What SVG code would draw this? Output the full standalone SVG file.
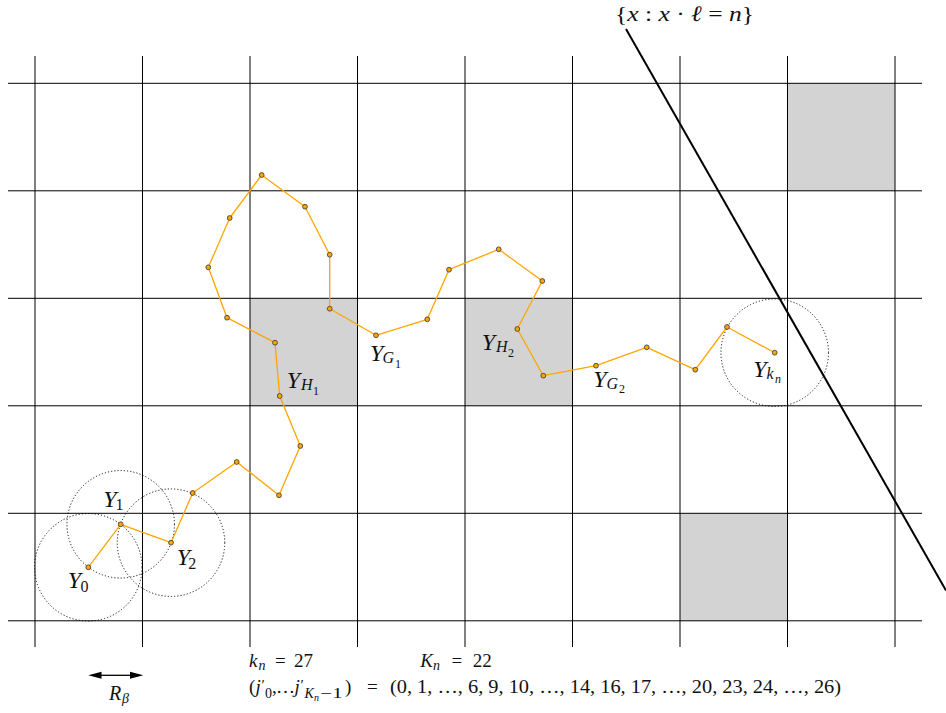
<svg xmlns="http://www.w3.org/2000/svg" width="946" height="713" viewBox="0 0 946 713">
<style>
.g{stroke:#000;stroke-width:1;fill:none}
.cell{fill:#d3d3d3;stroke:none}
.dc{fill:none;stroke:#000;stroke-width:0.9;stroke-dasharray:1.2 2}
.w{fill:none;stroke:#ffa500;stroke-width:1.3;stroke-linejoin:round}
.p{fill:#ffa500;stroke:#333;stroke-width:0.8}
text{font-family:"Liberation Serif","DejaVu Serif",serif;fill:#111}
.i{font-style:italic}
.L{font-size:24px}
.s{font-size:16px}
.ss{font-size:12px}
.b{font-size:19px}
.bs{font-size:14px}
.bss{font-size:10px}
.pr{font-size:15px}
</style>
<rect width="946" height="713" fill="#fff"/>
<g id="cells">
<rect class="cell" x="250" y="298.3" width="107.5" height="107.5"/>
<rect class="cell" x="465" y="298.3" width="107.5" height="107.5"/>
<rect class="cell" x="787.5" y="83.3" width="107.5" height="107.5"/>
<rect class="cell" x="680" y="513.3" width="107.5" height="107.5"/>
</g>
<g id="grid" class="g">
<line x1="35" y1="56" x2="35" y2="647"/>
<line x1="142.5" y1="56" x2="142.5" y2="647"/>
<line x1="250" y1="56" x2="250" y2="647"/>
<line x1="357.5" y1="56" x2="357.5" y2="647"/>
<line x1="465" y1="56" x2="465" y2="647"/>
<line x1="572.5" y1="56" x2="572.5" y2="647"/>
<line x1="680" y1="56" x2="680" y2="647"/>
<line x1="787.5" y1="56" x2="787.5" y2="647"/>
<line x1="895" y1="56" x2="895" y2="647"/>
<line x1="8" y1="83.3" x2="922" y2="83.3"/>
<line x1="8" y1="190.8" x2="922" y2="190.8"/>
<line x1="8" y1="298.3" x2="922" y2="298.3"/>
<line x1="8" y1="405.8" x2="922" y2="405.8"/>
<line x1="8" y1="513.3" x2="922" y2="513.3"/>
<line x1="8" y1="620.8" x2="922" y2="620.8"/>
</g>
<g id="hyperplane">
<line x1="626" y1="29" x2="946" y2="590.5" stroke="#000" stroke-width="2"/>
<text x="615" y="21" style="font-size:22px" textLength="139" lengthAdjust="spacingAndGlyphs">{<tspan class="i">x</tspan> : <tspan class="i">x</tspan> · <tspan class="i">ℓ</tspan> = <tspan class="i">n</tspan>}</text>
</g>
<g id="circles">
<circle class="dc" cx="88.3" cy="567.3" r="53.75"/>
<circle class="dc" cx="120.7" cy="524.3" r="53.75"/>
<circle class="dc" cx="171" cy="542.7" r="53.75"/>
<circle class="dc" cx="774.7" cy="352.7" r="53.75"/>
</g>
<g id="connectors">
<polyline class="w" points="88.3,567.3 120.7,524.3 171,542.7 192.7,493 236.7,462 279,495.3 300.3,446 279.7,396 275,342.7 227,317.7 208.3,267.3 229.7,218 261.7,175 305,206.7 329.7,254.7 329.7,308.7 376,335.3 427.3,319.3 449,269.7 498.7,249.3 542.3,281 517.3,329 543.3,375.7 596,365.7 646.7,347.3 695.3,369.7 727,327 774.7,352.7"/>
</g>
<g id="points">
<circle id="Y0" class="p" cx="88.3" cy="567.3" r="2.4"/>
<circle id="Y1" class="p" cx="120.7" cy="524.3" r="2.4"/>
<circle id="Y2" class="p" cx="171" cy="542.7" r="2.4"/>
<circle id="Y3" class="p" cx="192.7" cy="493" r="2.4"/>
<circle id="Y4" class="p" cx="236.7" cy="462" r="2.4"/>
<circle id="Y5" class="p" cx="279" cy="495.3" r="2.4"/>
<circle id="Y6" class="p" cx="300.3" cy="446" r="2.4"/>
<circle id="Y7" class="p" cx="279.7" cy="396" r="2.4"/>
<circle id="Y8" class="p" cx="275" cy="342.7" r="2.4"/>
<circle id="Y9" class="p" cx="227" cy="317.7" r="2.4"/>
<circle id="Y10" class="p" cx="208.3" cy="267.3" r="2.4"/>
<circle id="Y11" class="p" cx="229.7" cy="218" r="2.4"/>
<circle id="Y12" class="p" cx="261.7" cy="175" r="2.4"/>
<circle id="Y13" class="p" cx="305" cy="206.7" r="2.4"/>
<circle id="Y14" class="p" cx="329.7" cy="254.7" r="2.4"/>
<circle id="Y15" class="p" cx="329.7" cy="308.7" r="2.4"/>
<circle id="Y16" class="p" cx="376" cy="335.3" r="2.4"/>
<circle id="Y17" class="p" cx="427.3" cy="319.3" r="2.4"/>
<circle id="Y18" class="p" cx="449" cy="269.7" r="2.4"/>
<circle id="Y19" class="p" cx="498.7" cy="249.3" r="2.4"/>
<circle id="Y20" class="p" cx="542.3" cy="281" r="2.4"/>
<circle id="Y21" class="p" cx="517.3" cy="329" r="2.4"/>
<circle id="Y22" class="p" cx="543.3" cy="375.7" r="2.4"/>
<circle id="Y23" class="p" cx="596" cy="365.7" r="2.4"/>
<circle id="Y24" class="p" cx="646.7" cy="347.3" r="2.4"/>
<circle id="Y25" class="p" cx="695.3" cy="369.7" r="2.4"/>
<circle id="Y26" class="p" cx="727" cy="327" r="2.4"/>
<circle id="Y27" class="p" cx="774.7" cy="352.7" r="2.4"/>
</g>
<g id="labels">
<text class="L i" x="67.7" y="588.3">Y</text><text class="s" x="80.5" y="591.5">0</text>
<text class="L i" x="103.3" y="506.7">Y</text><text class="s" x="115.5" y="510">1</text>
<text class="L i" x="176.7" y="565">Y</text><text class="s" x="188.3" y="568.5">2</text>
<text class="L i" x="286.7" y="388">Y</text><text class="s i" x="301" y="390">H</text><text class="ss" x="313" y="394.5">1</text>
<text class="L i" x="370" y="361">Y</text><text class="s i" x="382.5" y="363">G</text><text class="ss" x="395" y="367.5">1</text>
<text class="L i" x="481.7" y="350">Y</text><text class="s i" x="496" y="352">H</text><text class="ss" x="508" y="356.5">2</text>
<text class="L i" x="593.3" y="386.7">Y</text><text class="s i" x="606.5" y="388.7">G</text><text class="ss" x="619" y="393">2</text>
<text class="L i" x="753.3" y="376.7">Y</text><text class="s i" x="766.5" y="378.7">k</text><text class="ss i" x="775" y="383">n</text>
</g>
<g id="rbeta">
<line x1="100" y1="675.3" x2="131" y2="675.3" stroke="#000" stroke-width="1.3"/>
<polygon points="88.3,675.3 101.5,671.8 101.5,678.8" fill="#000"/>
<polygon points="143.3,675.3 130,671.8 130,678.8" fill="#000"/>
<text class="i" style="font-size:20px" x="109" y="699.5">R</text><text class="i" style="font-size:14px" x="122" y="703">β</text>
</g>
<g id="bottom">
<text class="b i" x="249" y="667">k</text><text class="bs i" x="258.5" y="670">n</text><text class="b" x="275" y="667">=</text><text class="b" x="294" y="667">27</text>
<text class="b i" x="420.3" y="667">K</text><text class="bs i" x="433" y="670">n</text><text class="b" x="451.5" y="667">=</text><text class="b" x="472.7" y="667">22</text>
<text class="b" x="249" y="693">(</text>
<text class="b i" x="255.5" y="693">j</text><text class="pr" x="261.5" y="690">′</text><text class="bs" x="265" y="698">0</text>
<text class="b" x="272" y="693">,</text><text class="b" x="276" y="693">…</text>
<text class="b i" x="294.5" y="693">j</text><text class="pr" x="300.5" y="690">′</text>
<text class="bs i" x="304.5" y="698">K</text><text class="bss i" x="314" y="700.5">n</text><text class="bs" x="320.5" y="698" textLength="22" lengthAdjust="spacingAndGlyphs">−1</text>
<text class="b" x="345" y="693">)</text>
<text class="b" x="367" y="693">=</text>
<text class="b" x="390" y="693" textLength="451" lengthAdjust="spacingAndGlyphs">(0, 1, …, 6, 9, 10, …, 14, 16, 17, …, 20, 23, 24, …, 26)</text>
</g>
</svg>
